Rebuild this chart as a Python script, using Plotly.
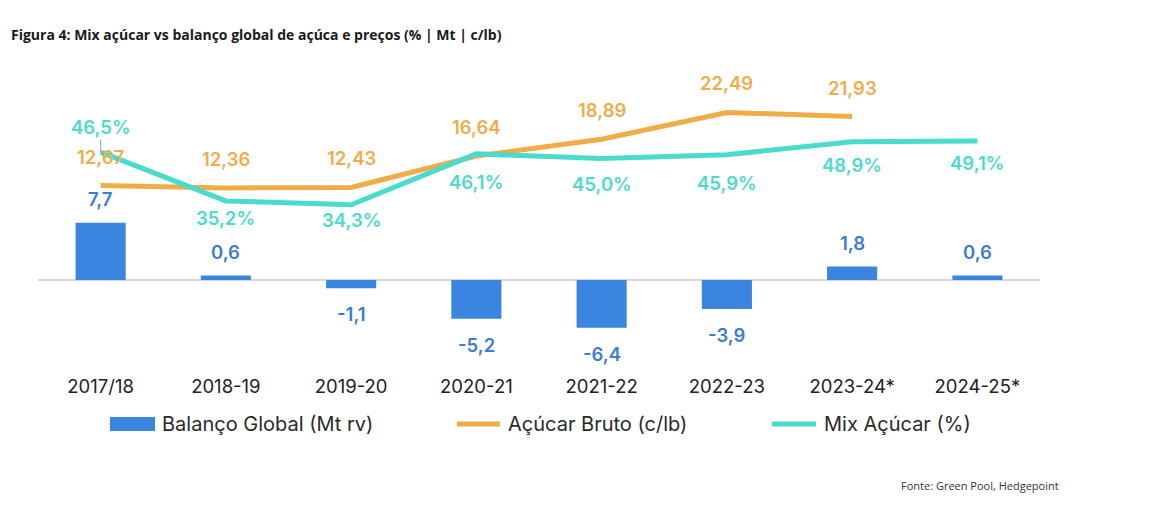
import plotly.graph_objects as go

categories = ["2017/18", "2018-19", "2019-20", "2020-21", "2021-22", "2022-23", "2023-24*", "2024-25*"]
balanco = [7.7, 0.6, -1.1, -5.2, -6.4, -3.9, 1.8, 0.6]
acucar_bruto = [12.67, 12.36, 12.43, 16.64, 18.89, 22.49, 21.93, None]
mix_acucar = [46.5, 35.2, 34.3, 46.1, 45.0, 45.9, 48.9, 49.1]

BLUE = "#3A85E0"
BLUE_TXT = "#3A7CD8"
ORANGE = "#F0AC48"
TEAL = "#4ADBCC"
FONT = "Inter"

W, H = 1150, 506
L, R, T, B = 38, 110, 60, 140
PW = W - L - R
PH = H - T - B
bottom_px = H - B


def px(xp):
    return (xp - L) / PW


def py(yp):
    return (bottom_px - yp) / PH


fig = go.Figure()
fig.add_trace(go.Bar(x=categories, y=balanco, name="Balanço Global (Mt rv)",
                     marker=dict(color=BLUE, line=dict(width=0)), width=0.4,
                     showlegend=False, yaxis="y"))
fig.add_trace(go.Scatter(x=categories, y=acucar_bruto, name="Açúcar Bruto (c/lb)", mode="lines",
                         line=dict(color=ORANGE, width=5), showlegend=False, yaxis="y"))
fig.add_trace(go.Scatter(x=categories, y=mix_acucar, name="Mix Açúcar (%)", mode="lines",
                         line=dict(color=TEAL, width=5), showlegend=False, yaxis="y2"))

annotations = []


def fmt(v, d):
    return f"{v:.{d}f}".replace(".", ",")


lab_font = dict(family=FONT, size=18.5, weight=600)

for c, v in zip(categories, balanco):
    annotations.append(dict(x=c, y=v, xref="x", yref="y", text=fmt(v, 1), showarrow=False,
                            yshift=24 if v >= 0 else -26,
                            font=dict(lab_font, color=BLUE_TXT)))

for c, v in zip(categories, acucar_bruto):
    if v is None:
        continue
    annotations.append(dict(x=c, y=v, xref="x", yref="y", text=fmt(v, 2), showarrow=False,
                            yshift=29, font=dict(lab_font, color=ORANGE)))

mix_shifts = [25, -17, -15, -28, -25, -28, -23, -22]
for i, (c, v) in enumerate(zip(categories, mix_acucar)):
    if i == 0:
        annotations.append(dict(x=c, y=v, xref="x", yref="y2", text=fmt(v, 1) + "%",
                                showarrow=True, arrowhead=0, arrowwidth=1, arrowcolor="#A0A0A0",
                                ax=0, ay=-mix_shifts[i], standoff=0,
                                font=dict(lab_font, color=TEAL)))
    else:
        annotations.append(dict(x=c, y=v, xref="x", yref="y2", text=fmt(v, 1) + "%", showarrow=False,
                                yshift=mix_shifts[i], font=dict(lab_font, color=TEAL)))

# title and source
annotations.append(dict(x=px(9), y=py(34), xref="paper", yref="paper", xanchor="left", yanchor="middle",
                        text="<b>Figura 4: Mix açúcar vs balanço global de açúca e preços (% | Mt | c/lb)</b>",
                        showarrow=False, font=dict(family="Open Sans", size=14, color="#1A1A1A")))
annotations.append(dict(x=px(899), y=py(485), xref="paper", yref="paper", xanchor="left", yanchor="middle",
                        text="Fonte: Green Pool, Hedgepoint", showarrow=False,
                        font=dict(family="Open Sans", size=11, color="#333333")))

# custom legend
leg_y = 424
shapes = [
    dict(type="rect", xref="paper", yref="paper", x0=px(110), x1=px(155), y0=py(431), y1=py(417),
         fillcolor=BLUE, line=dict(width=0)),
    dict(type="line", xref="paper", yref="paper", x0=px(457), x1=px(500), y0=py(leg_y), y1=py(leg_y),
         line=dict(color=ORANGE, width=5)),
    dict(type="line", xref="paper", yref="paper", x0=px(772), x1=px(816), y0=py(leg_y), y1=py(leg_y),
         line=dict(color=TEAL, width=5)),
]
for xx, t in [(160, "Balanço Global (Mt rv)"), (506, "Açúcar Bruto (c/lb)"), (822, "Mix Açúcar (%)")]:
    annotations.append(dict(x=px(xx), y=py(leg_y), xref="paper", yref="paper", xanchor="left",
                            yanchor="middle", text=t, showarrow=False,
                            font=dict(family=FONT, size=20, color="#2A2A2A")))

# axis ranges: primary 0 at y=280 px, 7.45 px/unit ; secondary 0 at 353 px, 4.32 px/unit
s1, z1 = 7.45, 280
s2, z2 = 4.32, 353
y1_range = [-(bottom_px - z1) / s1, (z1 - T) / s1]
y2_range = [-(bottom_px - z2) / s2, (z2 - T) / s2]

fig.update_layout(
    width=W, height=H,
    margin=dict(l=L, r=R, t=T, b=B, pad=0),
    paper_bgcolor="white", plot_bgcolor="white",
    showlegend=False,
    xaxis=dict(showgrid=False, showline=False, zeroline=False, ticks="",
               tickfont=dict(family=FONT, size=18.5, color="#222222"), ticklabelstandoff=7),
    yaxis=dict(range=y1_range, showgrid=False, showticklabels=False, zeroline=True,
               zerolinecolor="#D9D9D9", zerolinewidth=1.5, showline=False),
    yaxis2=dict(range=y2_range, overlaying="y", side="right", showgrid=False,
                showticklabels=False, zeroline=False, showline=False),
    annotations=annotations,
    shapes=shapes,
)

fig.write_html("out.html")
